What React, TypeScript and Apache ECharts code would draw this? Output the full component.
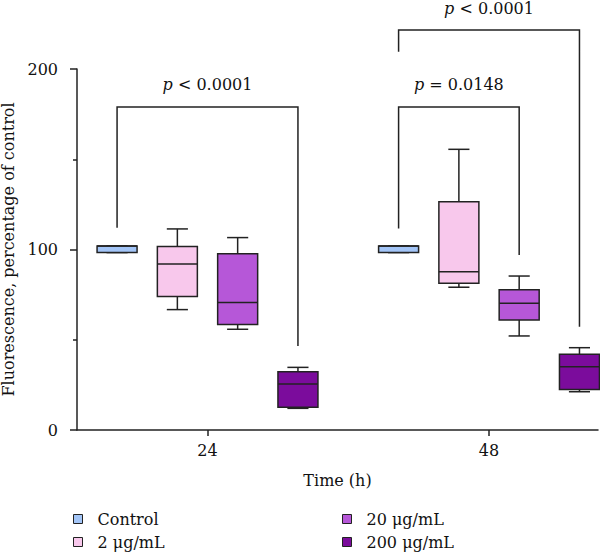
import React, { useEffect, useRef } from "react";
import * as echarts from "echarts";

// ---- data ----
const timeGroups = [24, 48];
const seriesNames = ["Control", "2 μg/mL", "20 μg/mL", "200 μg/mL"];
const seriesColors = ["#a3c5f7", "#f8c8ec", "#b657d8", "#7b0c9c"];
// [min, Q1, median, Q3, max] for 24 h and 48 h
const controlValues = [
  [98.3, 98.3, 101.9, 101.9, 101.9],
  [98.3, 98.3, 101.9, 101.9, 101.9],
];
const dose2Values = [
  [66.7, 73.9, 92.0, 101.6, 111.4],
  [79.1, 81.3, 87.7, 126.5, 155.5],
];
const dose20Values = [
  [55.8, 58.5, 70.7, 97.7, 106.6],
  [52.1, 60.9, 70.2, 77.7, 85.3],
];
const dose200Values = [
  [12.0, 12.6, 25.5, 32.3, 34.7],
  [21.2, 22.5, 35.1, 41.9, 45.6],
];
const allValues = [controlValues, dose2Values, dose20Values, dose200Values];
// brackets: [time group, from series, to series, bar height, left leg end, right leg end]
const brackets = [
  [24, 0, 3, 179, 112, 46.5],
  [48, 0, 2, 179, 111.7, 97],
  [48, 0, 3, 221.6, 209.6, 57.2],
];
const bracketLabels = ["< 0.0001", "= 0.0148", "< 0.0001"];
const yTicks = [0, 100, 200];

// ---- layout (in hours along x) ----
const X_MIN = 12.874;
const X_MAX = 57.29;
const OFFSETS = [-7.71, -2.57, 2.57, 7.71];
const BOX_W = 3.41;
const CAP_W = 1.8;
const INK = "#222222";
const LW = 1.5;
const FONT = "DejaVu Serif";
const LEGEND_POS = [
  [73, 511],
  [73, 534],
  [342, 511],
  [342, 534],
];

export default function App() {
  const ref = useRef<HTMLDivElement>(null);
  useEffect(() => {
    if (!ref.current) return;
    const chart = echarts.init(ref.current, undefined, { renderer: "svg" });

    const boxSeries = seriesNames.map((name, si) => ({
      name,
      type: "custom",
      clip: false,
      itemStyle: { color: seriesColors[si], borderColor: INK },
      encode: { x: 0, y: [1, 2, 3, 4, 5] },
      data: timeGroups.map((g, gi) => [g, ...allValues[si][gi]]),
      renderItem: (params: any, api: any) => {
        const x = api.value(0) + OFFSETS[si];
        const lo = api.value(1), q1 = api.value(2), med = api.value(3), q3 = api.value(4), hi = api.value(5);
        const c = (xx: number, yy: number) => api.coord([xx, yy]);
        const cx = c(x, 0)[0];
        const xl = c(x - BOX_W / 2, 0)[0];
        const xr = c(x + BOX_W / 2, 0)[0];
        const capL = c(x - CAP_W / 2, 0)[0];
        const capR = c(x + CAP_W / 2, 0)[0];
        const yLo = c(x, lo)[1], yQ1 = c(x, q1)[1], yMed = c(x, med)[1], yQ3 = c(x, q3)[1], yHi = c(x, hi)[1];
        const st = { stroke: INK, lineWidth: LW };
        return {
          type: "group",
          children: [
            { type: "line", shape: { x1: cx, y1: yHi, x2: cx, y2: yQ3 }, style: st },
            { type: "line", shape: { x1: cx, y1: yLo, x2: cx, y2: yQ1 }, style: st },
            { type: "line", shape: { x1: capL, y1: yHi, x2: capR, y2: yHi }, style: st },
            { type: "line", shape: { x1: capL, y1: yLo, x2: capR, y2: yLo }, style: st },
            {
              type: "rect",
              shape: { x: xl, y: yQ3, width: xr - xl, height: yQ1 - yQ3 },
              style: { fill: seriesColors[si], stroke: INK, lineWidth: LW },
            },
            { type: "line", shape: { x1: xl, y1: yMed, x2: xr, y2: yMed }, style: st },
          ],
        };
      },
    }));

    const bracketSeries = {
      name: "brackets",
      type: "custom",
      clip: false,
      silent: true,
      encode: { x: 0, y: 3 },
      data: brackets,
      renderItem: (params: any, api: any) => {
        const g = api.value(0);
        const from = api.value(1), to = api.value(2);
        const bar = api.value(3), e1 = api.value(4), e2 = api.value(5);
        const p1 = api.coord([g + OFFSETS[from], bar]);
        const p2 = api.coord([g + OFFSETS[to], bar]);
        const yE1 = api.coord([g, e1])[1];
        const yE2 = api.coord([g, e2])[1];
        const st = { stroke: INK, lineWidth: LW, fill: "none" };
        return {
          type: "group",
          children: [
            {
              type: "polyline",
              shape: { points: [[p1[0], yE1], [p1[0], p1[1]], [p2[0], p2[1]], [p2[0], yE2]] },
              style: st,
            },
            {
              type: "text",
              x: (p1[0] + p2[0]) / 2,
              y: p1[1] - 22,
              style: {
                text: "{i|p} " + bracketLabels[params.dataIndex],
                align: "center",
                verticalAlign: "middle",
                fill: "#111",
                font: `16px ${FONT}`,
                rich: { i: { fontStyle: "italic", fontSize: 16, fontFamily: FONT, fill: "#111" } },
              },
            },
          ],
        };
      },
    };

    const legends = seriesNames.map((name, i) => ({
      left: LEGEND_POS[i][0],
      top: LEGEND_POS[i][1],
      icon: "rect",
      itemWidth: 9,
      itemHeight: 9,
      selectedMode: false,
      padding: 0,
      textStyle: { fontFamily: FONT, fontSize: 16, color: "#111", padding: [0, 0, 0, 10] },
      data: [{ name, itemStyle: { color: seriesColors[i], borderColor: INK, borderWidth: 1 } }],
    }));

    chart.setOption({
      animation: false,
      grid: { left: 77, right: 2, top: 69, bottom: 126, containLabel: false, outerBoundsMode: "none" },
      legend: legends,
      xAxis: {
        type: "value",
        min: X_MIN,
        max: X_MAX,
        name: "Time (h)",
        nameLocation: "middle",
        nameGap: 42,
        nameTextStyle: { fontFamily: FONT, fontSize: 16, color: "#111" },
        splitLine: { show: false },
        axisLine: { show: true, lineStyle: { color: INK, width: LW } },
        axisTick: { show: true, length: 6, customValues: timeGroups, lineStyle: { color: INK, width: LW } },
        axisLabel: {
          customValues: timeGroups,
          margin: 12,
          fontFamily: FONT,
          fontSize: 16,
          color: "#111",
        },
      },
      yAxis: {
        type: "value",
        min: 0,
        max: 200,
        interval: 100,
        name: "Fluorescence, percentage of control",
        nameLocation: "middle",
        nameGap: 54,
        nameTextStyle: { fontFamily: FONT, fontSize: 16, color: "#111" },
        splitLine: { show: false },
        axisLine: { show: true, lineStyle: { color: INK, width: LW } },
        axisTick: { show: true, length: 7, lineStyle: { color: INK, width: LW } },
        minorTick: { show: true, splitNumber: 2, length: 4, lineStyle: { color: INK, width: LW } },
        axisLabel: {
          margin: 19,
          fontFamily: FONT,
          fontSize: 16,
          color: "#111",
          formatter: (v: number) => (yTicks.includes(v) ? String(v) : ""),
        },
      },
      series: [...boxSeries, bracketSeries],
    });
    return () => chart.dispose();
  }, []);
  return <div ref={ref} style={{ width: 600, height: 556, position: "absolute", left: 0, top: 0 }} />;
}
